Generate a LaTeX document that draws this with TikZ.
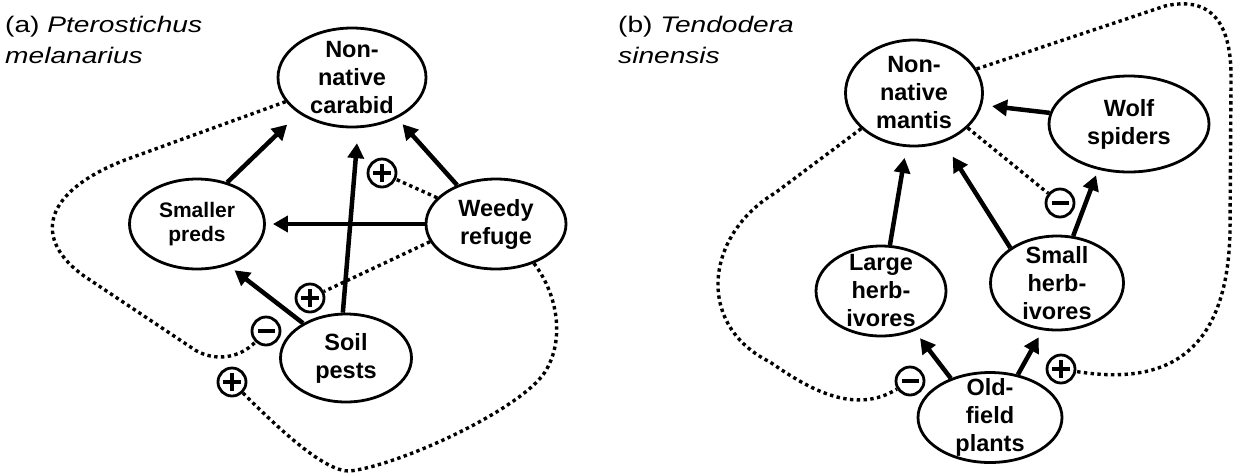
\documentclass[tikz,border=0pt]{standalone}
\usepackage{fontspec}
\usepackage{graphicx}
\setmainfont{Liberation Sans}
\usetikzlibrary{shapes.geometric,arrows.meta}
\tikzset{
  ell/.style={draw, ellipse, line width=2.8pt, inner sep=0pt},
  txt/.style={font=\bfseries\fontsize{23.5}{28}\selectfont, align=center},
  stxt/.style={font=\bfseries\fontsize{21}{24}\selectfont, align=center},
  ttl/.style={anchor=base west, inner sep=0pt, font=\fontsize{22.5}{27}\selectfont},
  arr/.style={line width=4.5pt, -{Triangle[length=15pt,width=16pt]}},
  dots/.style={line width=3.4pt, dash pattern=on 3.4pt off 3.4pt},
  sgn/.style={circle, draw, line width=2.8pt, minimum size=28pt, inner sep=0pt},
  possign/.style={sgn, path picture={
      \draw[line width=3.2pt] ([xshift=-9pt]path picture bounding box.center) -- ([xshift=9pt]path picture bounding box.center);
      \draw[line width=3.2pt] ([yshift=-9pt]path picture bounding box.center) -- ([yshift=9pt]path picture bounding box.center);}},
  negsign/.style={sgn, path picture={
      \draw[line width=3.2pt] ([xshift=-8.5pt]path picture bounding box.center) -- ([xshift=8.5pt]path picture bounding box.center);}}
}
\begin{document}
\begin{tikzpicture}[x=1pt, y=-1pt]
\fill[white] (0,0) rectangle (1233,475);
\useasboundingbox (0,0) rectangle (1233,475);

% ---------- panel (a) ----------
\node[ttl] (ta1) at (5,32) {\scalebox{1.25}[1]{(a) \textit{Pterostichus}}};
\node[ttl] (ta2) at (5,63) {\scalebox{1.25}[1]{\textit{melanarius}}};

\node[ell, minimum width=148pt, minimum height=99pt, label={[txt]center:Non-\\native\\carabid}] (carabid) at (352,77.5) {};
\node[ell, minimum width=135pt, minimum height=90pt, label={[stxt]center:Smaller\\preds}] (smaller) at (197,224) {};
\node[ell, minimum width=140pt, minimum height=90pt, label={[txt]center:Weedy\\refuge}] (weedy) at (496,224) {};
\node[ell, minimum width=131pt, minimum height=88pt, label={[txt]center:Soil\\pests}] (soil) at (346,358) {};

\node[possign] (pa1) at (382,173) {};
\node[possign] (pa2) at (310,298) {};
\node[negsign] (ma1) at (266,331) {};
\node[possign] (pa3) at (232,382) {};

\draw[arr, shorten >=16pt] (smaller.54) -- (carabid.214);
\draw[arr, shorten >=8pt] (weedy.135) -- (carabid.318);
\draw[arr, shorten >=15pt] (soil.94) -- (carabid.277);
\draw[arr, shorten >=7pt] (weedy.west) -- (smaller.east);
\draw[arr, shorten >=8pt] (soil.141) -- (smaller.307);

\draw[dots] (weedy.156) -- (pa1);
\draw[dots] (weedy.195) -- (pa2);
\draw[dots] (carabid.200) -- (125,160) .. controls (35,195) and (35,245) .. (90,280)
   -- (195,350) .. controls (215,362) and (240,358) .. (ma1);
\draw[dots] (weedy.314) .. controls (558,295) and (565,340) .. (545,372)
   .. controls (520,410) and (400,465) .. (350,471)
   .. controls (325,472) and (280,430) .. (pa3);

% ---------- panel (b) ----------
\node[ttl] (tb1) at (618,32) {\scalebox{1.25}[1]{(b) \textit{Tendodera}}};
\node[ttl] (tb2) at (618,63) {\scalebox{1.25}[1]{\textit{sinensis}}};

\node[ell, minimum width=137pt, minimum height=106pt, label={[txt]center:Non-\\native\\mantis}] (mantis) at (914,93) {};
\node[ell, minimum width=160pt, minimum height=96pt, label={[txt]center:Wolf\\spiders}] (wolf) at (1129,124) {};
\node[ell, minimum width=130pt, minimum height=90pt, label={[txt]center:Large\\herb-\\ivores}] (large) at (881,291) {};
\node[ell, minimum width=133pt, minimum height=94pt, label={[txt]center:Small\\herb-\\ivores}] (small) at (1057,283) {};
\node[ell, minimum width=144pt, minimum height=90pt, label={[txt]center:Old-\\field\\plants}] (old) at (990,417.5) {};

\node[negsign] (mb1) at (910,381) {};
\node[negsign] (mb2) at (1060,203) {};
\node[possign] (pb1) at (1061,369) {};

\draw[arr, shorten >=10pt] (wolf.172) -- (mantis.350);
\draw[arr, shorten >=11pt] (large.79) -- (mantis.262);
\draw[arr, shorten >=17pt] (small.143) -- (mantis.301);
\draw[arr, shorten >=6pt] (small.71) -- (wolf.236);
\draw[arr, shorten >=9pt] (old.135) -- (large.310);
\draw[arr, shorten >=8pt] (old.57) -- (small.253);

\draw[dots] (mantis.327) -- (mb2);
\draw[dots] (mantis.214) -- (775,193) .. controls (705,235) and (695,325) .. (770,362)
   .. controls (810,390) and (855,415) .. (mb1);
\draw[dots] (mantis.21) -- (1165,6) .. controls (1205,-3) and (1232,15) .. (1231,80)
   -- (1230,230) .. controls (1228,360) and (1160,385) .. (pb1);
\end{tikzpicture}
\end{document}
